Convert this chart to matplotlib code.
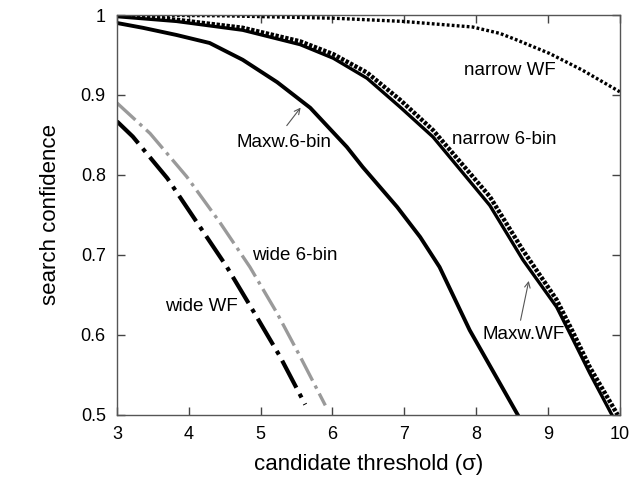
import matplotlib.pyplot as plt
import numpy as np

plt.rcParams['font.family'] = ['Liberation Sans', 'DejaVu Sans']
plt.rcParams['lines.scale_dashes'] = False

# curves
maxw6_x = [3, 3.36, 3.83, 4.29, 4.75, 5.23, 5.69, 6.2, 6.42, 6.9, 7.22, 7.49, 7.91, 8.58]
maxw6_y = [0.99, 0.984, 0.975, 0.965, 0.944, 0.916, 0.884, 0.835, 0.81, 0.76, 0.7225, 0.685, 0.606, 0.5]

maxwwf_x = [3, 3.83, 4.75, 5.55, 6.01, 6.48, 6.94, 7.4, 8.19, 8.65, 9.12, 9.35, 9.58, 9.89]
maxwwf_y = [0.998, 0.992, 0.981, 0.963, 0.946, 0.921, 0.885, 0.8475, 0.762, 0.694, 0.635, 0.594, 0.5525, 0.5]

narrow6_x = [3, 3.83, 4.75, 5.55, 6.01, 6.48, 6.94, 7.4, 8.19, 8.65, 9.12, 9.35, 9.58, 9.97]
narrow6_y = [1.0, 0.994, 0.984, 0.967, 0.951, 0.928, 0.894, 0.856, 0.773, 0.706, 0.644, 0.603, 0.56, 0.5]

narrowwf_x = [3, 4.5, 6.01, 6.98, 7.95, 8.33, 8.56, 9.02, 9.48, 10]
narrowwf_y = [1.0, 0.999, 0.996, 0.992, 0.985, 0.977, 0.969, 0.952, 0.931, 0.904]

wide6_x = [3, 3.46, 3.97, 4.43, 4.85, 5.23, 5.55, 5.9]
wide6_y = [0.89, 0.852, 0.798, 0.741, 0.685, 0.627, 0.573, 0.512]

widewf_x = [3, 3.22, 3.7, 4.53, 4.89, 5.27, 5.62]
widewf_y = [0.867, 0.848, 0.796, 0.685, 0.631, 0.573, 0.513]

fig = plt.figure(figsize=(6.41, 4.84), dpi=100)
ax = fig.add_axes([0.1825, 0.1426, 0.7845, 0.8264])

ax.plot(narrowwf_x, narrowwf_y, color='k', lw=2.4, linestyle=(0, (2.0, 1.6)))
ax.plot(narrow6_x, narrow6_y, color='k', lw=3.2, linestyle=(0, (2.4, 1.2)))
ax.plot(maxwwf_x, maxwwf_y, color='k', lw=2.4)
ax.plot(maxw6_x, maxw6_y, color='k', lw=2.8)
ax.plot(wide6_x, wide6_y, color='#9a9a9a', lw=2.4, linestyle=(0, (18, 4, 2.5, 4)))
ax.plot(widewf_x, widewf_y, color='k', lw=3.0, linestyle=(0, (22, 5, 3, 5)))

fs = 13.5
ax.text(8.47, 0.931, 'narrow WF', fontsize=fs, ha='center', va='center')
ax.text(7.67, 0.844, 'narrow 6-bin', fontsize=fs, ha='left', va='center')
ax.text(4.67, 0.841, 'Maxw.6-bin', fontsize=fs, ha='left', va='center')
ax.text(8.09, 0.601, 'Maxw.WF', fontsize=fs, ha='left', va='center')
ax.text(4.88, 0.699, 'wide 6-bin', fontsize=fs, ha='left', va='center')
ax.text(3.67, 0.635, 'wide WF', fontsize=fs, ha='left', va='center')

arrow = dict(arrowstyle='->', color='#555555', lw=0.8)
ax.annotate('', xy=(5.58, 0.887), xytext=(5.34, 0.859), arrowprops=arrow)
ax.annotate('', xy=(8.74, 0.671), xytext=(8.61, 0.615), arrowprops=arrow)

ax.set_xlim(3, 10)
ax.set_ylim(0.5, 1.0)
ax.set_xticks(np.arange(3, 11, 1))
ax.set_yticks([0.5, 0.6, 0.7, 0.8, 0.9, 1.0])
ax.set_yticklabels(['0.5', '0.6', '0.7', '0.8', '0.9', '1'])
ax.tick_params(direction='in', top=True, right=True, length=6, width=1,
               labelsize=13, pad=8, color='#444444')
for s in ax.spines.values():
    s.set_color('#555555')
    s.set_linewidth(1)

ax.set_xlabel('candidate threshold (σ)', fontsize=16, labelpad=8)
ax.set_ylabel('search confidence', fontsize=16, labelpad=14)

plt.savefig('out.png', dpi=100)
